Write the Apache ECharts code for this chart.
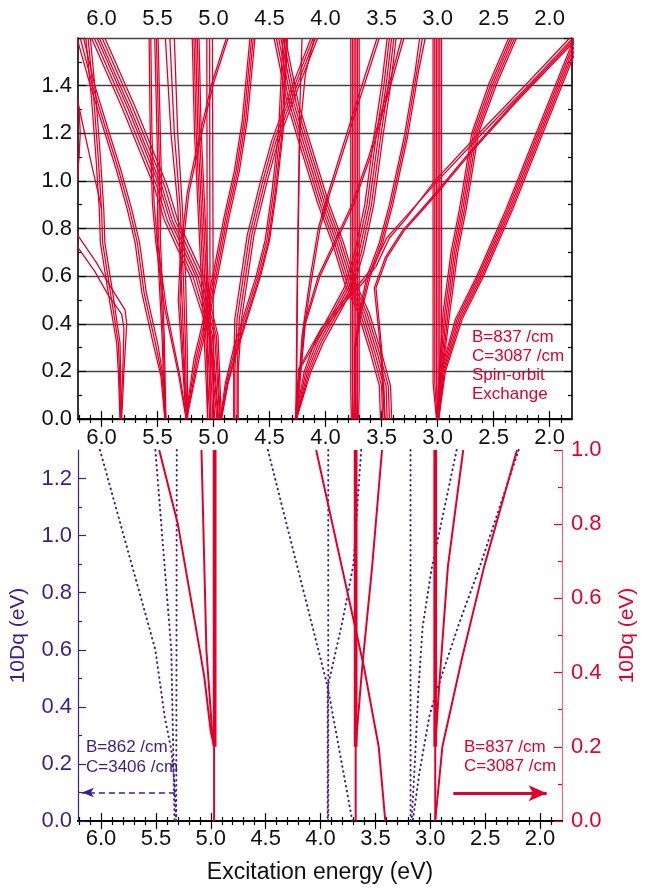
<!DOCTYPE html>
<html><head><meta charset="utf-8">
<script src="https://cdn.jsdelivr.net/npm/echarts@6/dist/echarts.min.js"></script>
<style>html,body{margin:0;padding:0;background:#fff}#c{width:646px;height:889px}</style>
</head><body><div id="c"></div>
<script>
// ---------- tick values ----------
const xMajor = [2.0,2.5,3.0,3.5,4.0,4.5,5.0,5.5,6.0];
const xMinor = [1.9,2.1,2.2,2.3,2.4,2.6,2.7,2.8,2.9,3.1,3.2,3.3,3.4,3.6,3.7,3.8,3.9,4.1,4.2,4.3,4.4,4.6,4.7,4.8,4.9,5.1,5.2,5.3,5.4,5.6,5.7,5.8,5.9,6.1,6.2];
const yMajorL = [0,0.2,0.4,0.6,0.8,1.0,1.2];
const yMinorL = [0.1,0.3,0.5,0.7,0.9,1.1];

// ---------- top panel: energy levels (x = eV, y = 10Dq) ----------
const bandG1 = [
 [[2.990,0],[2.965,0.15],[2.965,1.6]],
 [[2.995,0],[2.980,0.15],[2.980,1.6]],
 [[3.000,0],[2.995,0.15],[2.995,1.6]],
 [[3.000,0],[3.010,0.15],[3.010,1.6]],
 [[3.005,0],[3.025,0.15],[3.025,1.6]],
 [[3.010,0],[3.040,0.15],[3.040,1.6]]
];
const bandG2 = [
 [[2.99,0],[2.93,0.2],[2.78,0.42],[2.59,0.6],[2.33,0.88],[2.06,1.2],[1.72,1.6]],
 [[2.99,0],[2.94,0.2],[2.795,0.42],[2.605,0.6],[2.345,0.88],[2.075,1.2],[1.735,1.6]],
 [[2.995,0],[2.95,0.2],[2.81,0.42],[2.62,0.6],[2.36,0.88],[2.09,1.2],[1.75,1.6]],
 [[3.0,0],[2.96,0.2],[2.825,0.42],[2.635,0.6],[2.375,0.88],[2.105,1.2],[1.765,1.6]],
 [[3.0,0],[2.97,0.2],[2.84,0.42],[2.65,0.6],[2.39,0.88],[2.12,1.2],[1.78,1.6]]
];
const bandG3 = [
 [[2.995,0],[2.955,0.2],[2.89,0.45],[2.82,0.7],[2.745,0.88],[2.635,1.2],[2.47,1.41],[2.295,1.6]],
 [[2.998,0],[2.962,0.2],[2.905,0.45],[2.835,0.7],[2.76,0.88],[2.65,1.2],[2.487,1.41],[2.312,1.6]],
 [[3.0,0],[2.97,0.2],[2.92,0.45],[2.85,0.7],[2.775,0.88],[2.665,1.2],[2.505,1.41],[2.33,1.6]],
 [[3.002,0],[2.978,0.2],[2.935,0.45],[2.865,0.7],[2.79,0.88],[2.68,1.2],[2.522,1.41],[2.347,1.6]],
 [[3.005,0],[2.985,0.2],[2.95,0.45],[2.88,0.7],[2.805,0.88],[2.695,1.2],[2.54,1.41],[2.365,1.6]]
];
const bandH = [
 [[4.27,0],[4.23,0.21],[4.02,0.376],[3.81,0.5],[3.67,0.57],[3.55,0.64],[3.43,0.76],[3.29,0.836],[3.025,1.0],[2.63,1.2],[2.20,1.41],[1.82,1.6]],
 [[4.27,0],[4.24,0.21],[4.045,0.376],[3.835,0.5],[3.695,0.57],[3.575,0.64],[3.455,0.76],[3.31,0.836],[3.0,1.0],[2.60,1.2],[2.17,1.41],[1.79,1.6]]
];
const bandE35 = [
 [[3.47,0],[3.50,0.3],[3.55,0.55],[3.45,0.68],[3.30,0.79],[3.13,0.88],[3.0,0.95],[2.70,1.12],[2.30,1.33],[1.75,1.6]],
 [[3.475,0],[3.51,0.3],[3.565,0.55],[3.465,0.68],[3.315,0.79],[3.145,0.88],[3.015,0.95],[2.715,1.12],[2.315,1.33],[1.77,1.6]]
];
const bandV1 = [
 [[3.770,0],[3.775,0.12],[3.775,1.6]],
 [[3.760,0],[3.760,0.12],[3.760,1.6]],
 [[3.750,0],[3.745,0.12],[3.745,1.6]],
 [[3.725,0],[3.730,0.12],[3.730,1.6]],
 [[3.715,0],[3.715,0.12],[3.715,1.6]],
 [[3.705,0],[3.700,0.12],[3.700,1.6]]
];
const bandV1b = [
 [[3.74,0],[3.74,0.3],[3.70,0.45],[3.63,0.6],[3.52,0.74],[3.43,0.9],[3.30,1.18],[3.20,1.46],[3.16,1.6]],
 [[3.735,0],[3.735,0.3],[3.69,0.45],[3.615,0.6],[3.505,0.74],[3.415,0.9],[3.285,1.18],[3.185,1.46],[3.135,1.6]],
 [[3.73,0],[3.73,0.3],[3.68,0.45],[3.60,0.6],[3.49,0.74],[3.40,0.9],[3.27,1.18],[3.17,1.46],[3.11,1.6]]
];
const bandD35 = [
 [[3.41,0],[3.42,0.139],[3.50,0.278],[3.61,0.445],[3.73,0.57],[3.84,0.74],[3.97,0.905],[4.15,1.18],[4.24,1.32],[4.36,1.6]],
 [[3.43,0],[3.44,0.139],[3.52,0.278],[3.63,0.445],[3.75,0.57],[3.86,0.74],[3.99,0.905],[4.17,1.18],[4.26,1.32],[4.38,1.6]],
 [[3.45,0],[3.46,0.139],[3.54,0.278],[3.65,0.445],[3.77,0.57],[3.88,0.74],[4.01,0.905],[4.19,1.18],[4.28,1.32],[4.40,1.6]],
 [[3.47,0],[3.48,0.139],[3.56,0.278],[3.67,0.445],[3.79,0.57],[3.90,0.74],[4.03,0.905],[4.21,1.18],[4.30,1.32],[4.42,1.6]],
 [[3.49,0],[3.50,0.139],[3.58,0.278],[3.69,0.445],[3.81,0.57],[3.92,0.74],[4.05,0.905],[4.23,1.18],[4.32,1.32],[4.44,1.6]],
 [[3.51,0],[3.52,0.139],[3.60,0.278],[3.71,0.445],[3.83,0.57],[3.94,0.74],[4.07,0.905],[4.25,1.18],[4.34,1.32],[4.46,1.6]]
];
const bandFc = [
 [[4.26,0],[4.13,0.2],[4.02,0.32],[3.87,0.45],[3.75,0.555],[3.66,0.7],[3.57,0.9],[3.49,1.18],[3.42,1.4],[3.37,1.6]],
 [[4.26,0],[4.145,0.2],[4.04,0.32],[3.89,0.45],[3.77,0.555],[3.68,0.7],[3.59,0.9],[3.51,1.18],[3.44,1.4],[3.39,1.6]],
 [[4.26,0],[4.16,0.2],[4.06,0.32],[3.91,0.45],[3.79,0.555],[3.70,0.7],[3.61,0.9],[3.53,1.18],[3.46,1.4],[3.41,1.6]],
 [[4.265,0],[4.175,0.2],[4.08,0.32],[3.93,0.45],[3.81,0.555],[3.72,0.7],[3.63,0.9],[3.55,1.18],[3.48,1.4],[3.43,1.6]],
 [[4.27,0],[4.19,0.2],[4.10,0.32],[3.95,0.45],[3.83,0.555],[3.74,0.7],[3.65,0.9],[3.57,1.18],[3.50,1.4],[3.45,1.6]]
];
const bandFd = [
 [[4.26,0],[4.20,0.35],[4.12,0.6],[4.05,0.8],[3.96,0.95],[3.69,1.35],[3.52,1.6]],
 [[4.26,0],[4.21,0.35],[4.135,0.6],[4.065,0.8],[3.975,0.95],[3.71,1.35],[3.54,1.6]]
];
const bandFe = [
 [[4.26,0],[4.18,0.4],[4.05,0.6],[3.90,0.75],[3.75,0.9],[3.60,1.1],[3.45,1.35],[3.30,1.6]],
 [[4.26,0],[4.19,0.4],[4.065,0.6],[3.915,0.75],[3.765,0.9],[3.615,1.1],[3.465,1.35],[3.32,1.6]]
];
const bandThin426 = [
 [[4.265,0],[4.255,0.5],[4.24,1.0],[4.23,1.3],[4.21,1.6]],
 [[4.26,0],[4.25,0.6],[4.23,1.2],[4.18,1.45],[4.10,1.6]]
];
const bandX1 = [
 [[4.78,0],[4.78,0.2],[4.75,0.42],[4.64,0.77],[4.52,1.0],[4.42,1.17],[4.22,1.42],[4.07,1.6]],
 [[4.79,0],[4.79,0.2],[4.77,0.42],[4.66,0.77],[4.54,1.0],[4.44,1.17],[4.24,1.42],[4.09,1.6]],
 [[4.81,0],[4.81,0.2],[4.79,0.42],[4.68,0.77],[4.56,1.0],[4.46,1.17],[4.26,1.42],[4.11,1.6]],
 [[4.82,0],[4.82,0.2],[4.81,0.42],[4.70,0.77],[4.58,1.0],[4.48,1.17],[4.28,1.42],[4.13,1.6]]
];
const bandN = [
 [[4.93,0],[4.87,0.15],[4.78,0.3],[4.68,0.45],[4.58,0.6],[4.50,0.75],[4.44,0.95],[4.38,1.2],[4.34,1.6]],
 [[4.93,0],[4.875,0.15],[4.79,0.3],[4.69,0.45],[4.59,0.6],[4.51,0.75],[4.45,0.95],[4.39,1.2],[4.35,1.6]],
 [[4.935,0],[4.885,0.15],[4.805,0.3],[4.705,0.45],[4.605,0.6],[4.525,0.75],[4.465,0.95],[4.405,1.2],[4.365,1.6]],
 [[4.94,0],[4.895,0.15],[4.82,0.3],[4.72,0.45],[4.62,0.6],[4.54,0.75],[4.48,0.95],[4.42,1.2],[4.38,1.6]]
];
const bandM4 = [
 [[5.24,0],[5.13,0.25],[5.03,0.45],[4.95,0.63],[4.86,0.85],[4.77,1.04],[4.70,1.25],[4.66,1.45],[4.63,1.6]],
 [[5.24,0],[5.145,0.25],[5.045,0.45],[4.965,0.63],[4.875,0.85],[4.785,1.04],[4.715,1.25],[4.675,1.45],[4.645,1.6]],
 [[5.245,0],[5.16,0.25],[5.06,0.45],[4.98,0.63],[4.89,0.85],[4.80,1.04],[4.73,1.25],[4.69,1.45],[4.66,1.6]],
 [[5.25,0],[5.175,0.25],[5.075,0.45],[4.995,0.63],[4.905,0.85],[4.815,1.04],[4.745,1.25],[4.705,1.45],[4.675,1.6]]
];
const bandM3 = [
 [[5.24,0],[5.27,0.25],[5.30,0.5],[5.28,0.7],[5.22,0.95],[5.12,1.17],[5.0,1.41],[4.87,1.6]],
 [[5.245,0],[5.28,0.25],[5.315,0.5],[5.295,0.7],[5.235,0.95],[5.135,1.17],[5.015,1.41],[4.885,1.6]]
];
const bandM1 = [
 [[5.055,0],[5.06,1.6]],
 [[5.03,0],[5.035,1.6]],
 [[5.0,0],[5.01,1.6]]
];
const bandM2 = [
 [[4.99,0],[5.03,0.4],[5.07,0.8],[5.11,1.2],[5.13,1.6]],
 [[5.005,0],[5.045,0.4],[5.085,0.8],[5.125,1.2],[5.145,1.6]],
 [[5.02,0],[5.06,0.4],[5.10,0.8],[5.14,1.2],[5.16,1.6]],
 [[5.035,0],[5.075,0.4],[5.115,0.8],[5.155,1.2],[5.175,1.6]],
 [[5.05,0],[5.09,0.4],[5.13,0.8],[5.17,1.2],[5.19,1.6]]
];
const bandM9 = [
 [[5.23,0],[5.235,0.3],[5.25,0.6],[5.28,0.9],[5.32,1.2],[5.35,1.6]],
 [[5.24,0],[5.25,0.3],[5.27,0.6],[5.30,0.9],[5.35,1.2],[5.39,1.6]],
 [[5.245,0],[5.265,0.3],[5.29,0.6],[5.32,0.9],[5.38,1.2],[5.43,1.6]]
];
const bandM6 = [
 [[5.425,0],[5.44,0.35],[5.475,0.76],[5.465,1.0],[5.475,1.2],[5.495,1.6]],
 [[5.43,0],[5.45,0.35],[5.49,0.76],[5.48,1.0],[5.49,1.2],[5.51,1.6]],
 [[5.435,0],[5.46,0.35],[5.505,0.76],[5.495,1.0],[5.505,1.2],[5.525,1.6]]
];
const bandM5 = [
 [[5.24,0],[5.30,0.18],[5.42,0.46],[5.50,0.74],[5.53,0.9],[5.55,1.2],[5.56,1.6]],
 [[5.245,0],[5.31,0.18],[5.435,0.46],[5.515,0.74],[5.545,0.9],[5.565,1.2],[5.575,1.6]]
];
const bandBeta = [
 [[4.93,0],[4.96,0.35],[5.09,0.6],[5.32,0.836],[5.41,0.975],[5.69,1.3],[5.97,1.6]],
 [[4.94,0],[4.975,0.35],[5.115,0.6],[5.345,0.836],[5.435,0.975],[5.715,1.3],[5.995,1.6]],
 [[4.945,0],[4.99,0.35],[5.14,0.6],[5.37,0.836],[5.46,0.975],[5.74,1.3],[6.02,1.6]],
 [[4.955,0],[5.01,0.35],[5.16,0.6],[5.39,0.836],[5.48,0.975],[5.76,1.3],[6.04,1.6]],
 [[4.96,0],[5.025,0.35],[5.185,0.6],[5.415,0.836],[5.505,0.975],[5.785,1.3],[6.065,1.6]],
 [[4.97,0],[5.04,0.35],[5.21,0.6],[5.44,0.836],[5.53,0.975],[5.81,1.3],[6.09,1.6]]
];
const bandAlpha = [
 [[5.425,0],[5.45,0.18],[5.50,0.32],[5.60,0.53],[5.66,0.74],[5.73,0.88],[5.83,1.05],[5.93,1.2],[6.06,1.4],[6.16,1.6]],
 [[5.43,0],[5.46,0.18],[5.52,0.32],[5.62,0.53],[5.68,0.74],[5.75,0.88],[5.85,1.05],[5.95,1.2],[6.08,1.4],[6.19,1.6]],
 [[5.435,0],[5.47,0.18],[5.54,0.32],[5.64,0.53],[5.70,0.74],[5.77,0.88],[5.87,1.05],[5.97,1.2],[6.10,1.4],[6.22,1.6]]
];
const bandL1 = [
 [[5.825,0],[5.83,0.2],[5.835,0.32],[5.90,0.53],[5.97,0.74],[5.98,0.88],[6.01,1.1],[6.05,1.35],[6.10,1.6]],
 [[5.83,0],[5.84,0.2],[5.85,0.32],[5.92,0.53],[5.99,0.74],[6.00,0.88],[6.03,1.1],[6.07,1.35],[6.12,1.6]],
 [[5.835,0],[5.85,0.2],[5.865,0.32],[5.94,0.53],[6.01,0.74],[6.02,0.88],[6.05,1.1],[6.09,1.35],[6.14,1.6]]
];
const bandLeft2 = [
 [[6.25,0.80],[6.21,0.77],[6.05,0.66],[5.92,0.556],[5.79,0.458],[5.775,0.40],[5.80,0.2],[5.82,0]],
 [[6.25,0.75],[6.21,0.72],[6.06,0.62],[5.94,0.52],[5.82,0.44],[5.80,0.38],[5.81,0.2],[5.83,0]]
];
const bandL0 = [
 [[6.30,1.45],[6.21,1.33],[6.16,1.22],[6.08,1.05],[6.02,0.93],[6.00,0.88]],
 [[6.30,0.92],[6.22,1.0],[6.20,1.1],[6.19,1.2],[6.20,1.3],[6.25,1.42]]
];
const topBands = [bandG1,bandG2,bandG3,bandH,bandE35,bandV1,bandV1b,bandD35,bandFc,bandFd,bandFe,
  bandThin426,bandX1,bandN,bandM4,bandM3,bandM1,bandM2,bandM9,bandM6,bandM5,bandBeta,bandAlpha,bandL1,bandLeft2,bandL0];

// ---------- bottom panel ----------
// red solid (right axis, 0..1.0)
const redA = [[5.47,1.0],[5.30,0.80],[5.10,0.46],[5.06,0.39],[5.00,0.24],[4.97,0.2]];
const redB = [[5.085,1.0],[5.04,0.46],[4.99,0.25],[4.97,0.2]];
const redC = [[4.04,1.0],[3.81,0.69],[3.605,0.416],[3.47,0.2],[3.41,0]];
const redD = [[3.44,1.0],[3.53,0.685],[3.62,0.416],[3.68,0.2]];
const redE = [[2.70,1.0],[2.84,0.685],[2.92,0.36],[2.955,0.2]];
const redF = [[2.21,1.0],[2.51,0.685],[2.71,0.44],[2.89,0.2],[2.955,0]];
const redThick = [ [[4.965,0.2],[4.965,1.0]], [[3.68,0.2],[3.68,1.0]], [[2.955,0.2],[2.955,1.0]] ];
const redThin = [ [[4.97,0],[4.97,0.2]], [[3.68,0],[3.68,0.2]], [[2.955,0],[2.955,0.2]] ];
// purple dotted (left axis, 0..1.3)
const pur1 = [[6.01,1.3],[5.505,0.6],[5.42,0.365],[5.36,0.25],[5.33,0.13],[5.315,0]];
const pur2 = [[5.505,1.3],[5.36,0.6],[5.33,0]];
const pur3 = [[5.31,1.3],[5.315,0]];
const pur4 = [[4.48,1.3],[3.935,0.47],[3.71,0]];
const pur5 = [[3.93,1.3],[3.93,0]];
const pur6 = [[3.63,1.3],[3.70,0.9],[3.80,0.70],[3.935,0.47],[3.935,0]];
const pur7 = [[3.18,1.3],[3.18,0]];
const pur8 = [[2.76,1.3],[2.99,0.88],[3.07,0.68],[3.11,0.45],[3.14,0.21],[3.17,0]];
const pur9 = [[2.195,1.3],[2.55,0.89],[2.74,0.69],[2.95,0.447],[3.01,0.365],[3.10,0.168],[3.16,0]];
// arrows
const arrowPurple = [[5.327,0.1],[6.175,0.1]];
const arrowRed = [[2.79,0.075],[1.94,0.075]];

// ---------- styling ----------
const RED = '#E2002B', PURPLE = '#3B1E8C', FONT = '"Liberation Sans", Arial, Helvetica, sans-serif';
const fmt = v => v.toFixed(1);

function xAxisDef(grid, pos, major, labels, extra) {
  const base = {
    type:'value', gridIndex:grid, position:pos, min:1.8, max:6.21, inverse:true,
    axisLine:{show:major, lineStyle:{color:'#000', width:1.6}},
    axisTick:{show:true, inside:true, length: major?8:4, customValues: major?xMajor:xMinor, lineStyle:{color:'#000', width:1.2}},
    axisLabel:{show:labels, customValues:xMajor, formatter:fmt, fontSize:22, color:'#111', fontFamily:FONT, margin:8},
    splitLine:{show:false}
  };
  return Object.assign(base, extra||{});
}

const xAxes = [
  xAxisDef(0,'top',true,true),
  xAxisDef(0,'top',false,false),
  xAxisDef(0,'bottom',true,true),
  xAxisDef(0,'bottom',false,false),
  xAxisDef(1,'top',true,false),
  xAxisDef(1,'top',false,false),
  xAxisDef(1,'bottom',true,true,{name:'Excitation energy (eV)', nameLocation:'middle', nameGap:40,
      nameTextStyle:{fontSize:23, color:'#111', fontFamily:FONT}}),
  xAxisDef(1,'bottom',false,false)
];
xAxes[6].axisLine.lineStyle.width = 2;
xAxes[6].axisLabel.margin = 7;

const yAxes = [
  {type:'value', gridIndex:0, position:'left', min:0, max:1.6, interval:0.2,
   axisLine:{show:true, lineStyle:{color:'#000', width:1.6}},
   axisTick:{show:true, inside:true, length:8, lineStyle:{color:'#000', width:1.2}},
   minorTick:{show:true, splitNumber:2, length:4, lineStyle:{color:'#000', width:1.2}},
   axisLabel:{formatter:fmt, fontSize:22, color:'#111', fontFamily:FONT, margin:6, showMaxLabel:false},
   splitLine:{show:true, lineStyle:{color:'#444', width:1.3}}},
  {type:'value', gridIndex:0, position:'right', min:0, max:1.6, interval:0.2,
   axisLine:{show:true, lineStyle:{color:'#000', width:1.6}},
   axisTick:{show:true, inside:true, length:8, lineStyle:{color:'#000', width:1.2}},
   minorTick:{show:true, splitNumber:2, length:4, lineStyle:{color:'#000', width:1.2}},
   axisLabel:{show:false}, splitLine:{show:false}},
  {type:'value', gridIndex:1, position:'left', min:0, max:1.3,
   name:'10Dq (eV)', nameLocation:'middle', nameRotate:90, nameGap:49,
   nameTextStyle:{fontSize:21, color:PURPLE, fontFamily:FONT},
   axisLine:{show:true, lineStyle:{color:PURPLE, width:1.2}},
   axisTick:{show:true, inside:true, length:8, customValues:yMajorL, lineStyle:{color:PURPLE, width:1.2}},
   axisLabel:{customValues:yMajorL, formatter:fmt, fontSize:22, color:PURPLE, fontFamily:FONT, margin:6},
   splitLine:{show:false}},
  {type:'value', gridIndex:1, position:'left', min:0, max:1.3,
   axisLine:{show:false},
   axisTick:{show:true, inside:true, length:4, customValues:yMinorL, lineStyle:{color:PURPLE, width:1.2}},
   axisLabel:{show:false}, splitLine:{show:false}},
  {type:'value', gridIndex:1, position:'right', min:0, max:1.0, interval:0.2,
   name:'10Dq (eV)', nameLocation:'middle', nameRotate:90, nameGap:55,
   nameTextStyle:{fontSize:21, color:RED, fontFamily:FONT},
   axisLine:{show:true, lineStyle:{color:'#EE6680', width:1.2}},
   axisTick:{show:true, inside:true, length:8, lineStyle:{color:RED, width:1.2}},
   minorTick:{show:true, splitNumber:2, length:4, lineStyle:{color:RED, width:1.2}},
   axisLabel:{formatter:fmt, fontSize:22, color:RED, fontFamily:FONT, margin:9},
   splitLine:{show:false}}
];

const series = [];
topBands.forEach(band => band.forEach(strand => series.push({
  type:'line', xAxisIndex:0, yAxisIndex:0, data:strand, symbol:'none', silent:true,
  lineStyle:{color:RED, width:1.3}, z:3
})));
function addLine(data, yIdx, color, width, type, cap) {
  series.push({type:'line', xAxisIndex:6, yAxisIndex:yIdx, data:data, symbol:'none', silent:true,
    lineStyle:{color:color, width:width, type:type||'solid', cap:cap||'butt'}, z:4});
}
[pur1,pur2,pur3,pur4,pur5,pur6,pur7,pur8,pur9].forEach(d => addLine(d, 2, PURPLE, 2, [0.6,4.4], 'round'));
[redA,redB,redC,redD,redE,redF].forEach(d => addLine(d, 4, RED, 2));
redThick.forEach(d => addLine(d, 4, RED, 3.8));
redThin.forEach(d => addLine(d, 4, RED, 2));

series.push({type:'line', xAxisIndex:6, yAxisIndex:2, data:[arrowPurple[0]], symbol:'none', silent:true,
  markLine:{silent:true, symbol:['none','arrow'], symbolSize:[7,12], label:{show:false},
    lineStyle:{color:PURPLE, width:1.5, type:[6,4]},
    data:[[{coord:arrowPurple[0]},{coord:arrowPurple[1]}]]}});
series.push({type:'line', xAxisIndex:6, yAxisIndex:4, data:[arrowRed[0]], symbol:'none', silent:true,
  markLine:{silent:true, symbol:['none','arrow'], symbolSize:[12,18], label:{show:false},
    lineStyle:{color:RED, width:3.2, type:'solid'},
    data:[[{coord:arrowRed[0]},{coord:arrowRed[1]}]]}});

const chart = echarts.init(document.getElementById('c'), null, {renderer:'canvas'});
chart.setOption({
  animation:false,
  backgroundColor:'#fff',
  grid:[{left:78, right:74, top:38, height:381}, {left:78, right:74, top:450, height:371}],
  xAxis:xAxes, yAxis:yAxes, series:series,
  graphic:[
    {type:'text', left:472, top:328, silent:true, style:{text:'B=837 /cm\nC=3087 /cm\nSpin-orbit\nExchange', fill:RED, fontSize:17, fontFamily:FONT, lineHeight:19}},
    {type:'text', left:86, top:737, silent:true, style:{text:'B=862 /cm\nC=3406 /cm', fill:PURPLE, fontSize:17, fontFamily:FONT, lineHeight:20}},
    {type:'text', left:464, top:738, silent:true, style:{text:'B=837 /cm\nC=3087 /cm', fill:RED, fontSize:17, fontFamily:FONT, lineHeight:19}}
  ]
});
</script>
</body></html>
